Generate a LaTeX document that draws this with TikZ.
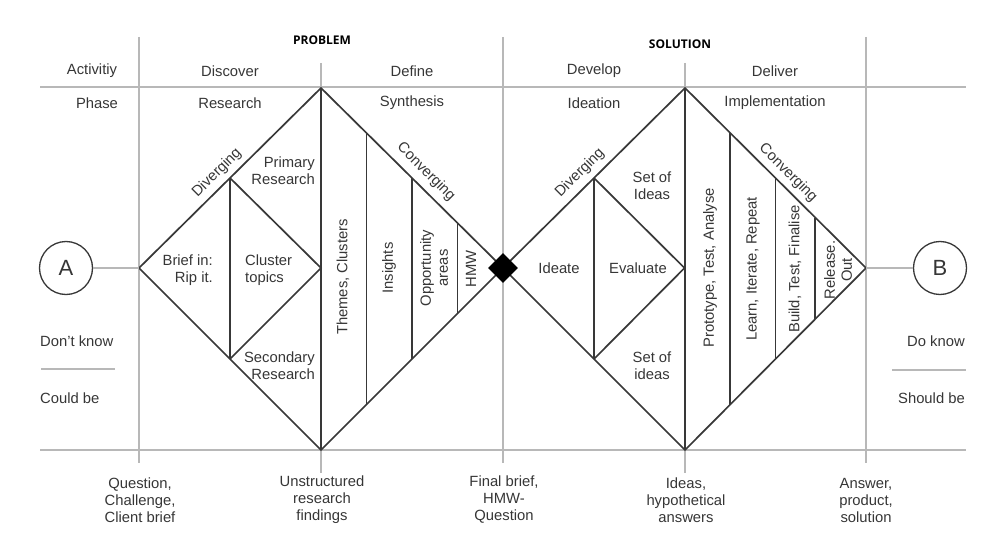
\documentclass[tikz,border=0pt]{standalone}
\usepackage{fontspec}
\setmainfont{Liberation Sans}
\newfontfamily\headfont{Open Sans}
\usetikzlibrary{positioning,calc,shapes.geometric}
\definecolor{gridgray}{HTML}{B8B8B8}
\definecolor{inkgray}{HTML}{383838}
\definecolor{txtgray}{HTML}{363636}

\begin{document}
\begin{tikzpicture}[
    x=1pt, y=-1pt,
    grid/.style={draw=gridgray, line width=1.3pt},
    edge/.style={draw=inkgray, line width=1.7pt, line join=miter},
    lbl/.style={font=\fontsize{14.8}{17}\selectfont, text=txtgray, align=center, inner sep=0pt},
    vlbl/.style={lbl, rotate=90},
    head/.style={font=\headfont\bfseries\fontsize{12}{14}\selectfont, text=black, inner sep=0pt},
    endpt/.style={circle, draw=inkgray, line width=1.3pt, minimum size=53pt, inner sep=0pt, font=\fontsize{22}{24}\selectfont, text=txtgray}
]
    \useasboundingbox (0,0) rectangle (1000,545);

    % grid
    \draw[grid] (40,87) -- (966,87);
    \draw[grid] (40,450) -- (966,450);
    \draw[grid] (139,37) -- (139,463);
    \draw[grid] (321,63) -- (321,473);
    \draw[grid] (503,37) -- (503,463);
    \draw[grid] (685,63) -- (685,473);
    \draw[grid] (866,37) -- (866,463);
    \draw[grid] (41,369) -- (115,369);
    \draw[grid] (892,370) -- (966,370);

    % problem diamond
    \coordinate (pL) at (139,268);
    \coordinate (pT) at (321,88);
    \coordinate (pR) at (503,268);
    \coordinate (pB) at (321,450);
    % solution diamond
    \coordinate (sT) at (685,88);
    \coordinate (sR) at (866,268);
    \coordinate (sB) at (685,450);

    \draw[edge] (pL) -- (pT) -- (pR) -- (pB) -- cycle;
    \draw[edge] (pT) -- (pB);
    \draw[edge] ($(pL)!.5!(pT)$) -- ($(pL)!.5!(pB)$);
    \draw[edge] ($(pL)!.5!(pT)$) -- ($(pL)!.5!(pR)$) -- ($(pL)!.5!(pB)$);
    \foreach \f in {.25,.5,.75}
        \draw[edge] ($(pT)!\f!(pR)$) -- ($(pB)!\f!(pR)$);

    \draw[edge] (pR) -- (sT) -- (sR) -- (sB) -- cycle;
    \draw[edge] (sT) -- (sB);
    \draw[edge] ($(pR)!.5!(sT)$) -- ($(pR)!.5!(sB)$);
    \draw[edge] ($(pR)!.5!(sT)$) -- ($(pR)!.5!(sR)$) -- ($(pR)!.5!(sB)$);
    \foreach \f in {.25,.5,.72}
        \draw[edge] ($(sT)!\f!(sR)$) -- ($(sB)!\f!(sR)$);

    \node[diamond, fill=black, minimum size=30pt, inner sep=0pt] (gate) at (pR) {};

    % start and end
    \node[endpt] (a) at (66,268) {A};
    \node[endpt] (b) at (940,268) {B};
    \draw[grid] (a) -- (pL);
    \draw[grid] (sR) -- (b);

    % headings
    \node[head] (problem) at (322,40) {PROBLEM};
    \node[head] (solution) at (680,44) {SOLUTION};

    \node[lbl] (activity) at (92,71) {Activitiy};
    \node[lbl] (discover) at (230,71) {Discover};
    \node[lbl] (define) at (412,71) {Define};
    \node[lbl] (develop) at (594,71) {Develop};
    \node[lbl] (deliver) at (775,71) {Deliver};

    \node[lbl] (phase) at (97,103) {Phase};
    \node[lbl] (research) at (230,103) {Research};
    \node[lbl] (synthesis) at (412,103) {Synthesis};
    \node[lbl] (ideation) at (594,103) {Ideation};
    \node[lbl] (implement) at (775,103) {Implementation};

    % problem labels
    \node[lbl, rotate=45] (div1) at (217,173) {Diverging};
    \node[lbl, rotate=-45] (conv1) at (426,172) {Converging};
    \node[lbl, align=right, anchor=east] (brief) at (213,270) {Brief in:\\Rip it.};
    \node[lbl, align=left, anchor=west] (cluster) at (245,270) {Cluster\\topics};
    \node[lbl, align=right, anchor=east] (primary) at (315,171) {Primary\\Research};
    \node[lbl, align=right, anchor=east] (secondary) at (315,366) {Secondary\\Research};
    \node[vlbl] (themes) at (343,277) {Themes, Clusters};
    \node[vlbl] (insights) at (389,268) {Insights};
    \node[vlbl] (opport) at (434,268) {Opportunity\\areas};
    \node[vlbl] (hmw) at (471,269) {HMW};

    % solution labels
    \node[lbl, rotate=45] (div2) at (580,173) {Diverging};
    \node[lbl, rotate=-45] (conv2) at (788,173) {Converging};
    \node[lbl] (ideate) at (559,268) {Ideate};
    \node[lbl] (evaluate) at (638,268) {Evaluate};
    \node[lbl] (ideasup) at (652,186) {Set of\\Ideas};
    \node[lbl] (ideasdn) at (652,366) {Set of\\ideas};
    \node[vlbl] (proto) at (710,268) {Prototype, Test, Analyse};
    \node[vlbl] (learn) at (753,269) {Learn, Iterate, Repeat};
    \node[vlbl] (build) at (795,269) {Build, Test, Finalise};
    \node[vlbl] (release) at (838,270) {Release.\\Out};

    % side notes
    \node[lbl, anchor=west] (dontknow) at (40,341) {Don't know};
    \node[lbl, anchor=west] (couldbe) at (40,398) {Could be};
    \node[lbl, anchor=east] (doknow) at (965,341) {Do know};
    \node[lbl, anchor=east] (shouldbe) at (965,398) {Should be};

    % outputs
    \node[lbl] (question) at (140,500) {Question,\\Challenge,\\Client brief};
    \node[lbl] (findings) at (322,500) {Unstructured\\research\\findings};
    \node[lbl] (finalbrief) at (504,500) {Final brief,\\HMW-\\Question};
    \node[lbl] (hypo) at (686,500) {Ideas,\\hypothetical\\answers};
    \node[lbl] (answer) at (866,500) {Answer,\\product,\\solution};
\end{tikzpicture}
\end{document}
